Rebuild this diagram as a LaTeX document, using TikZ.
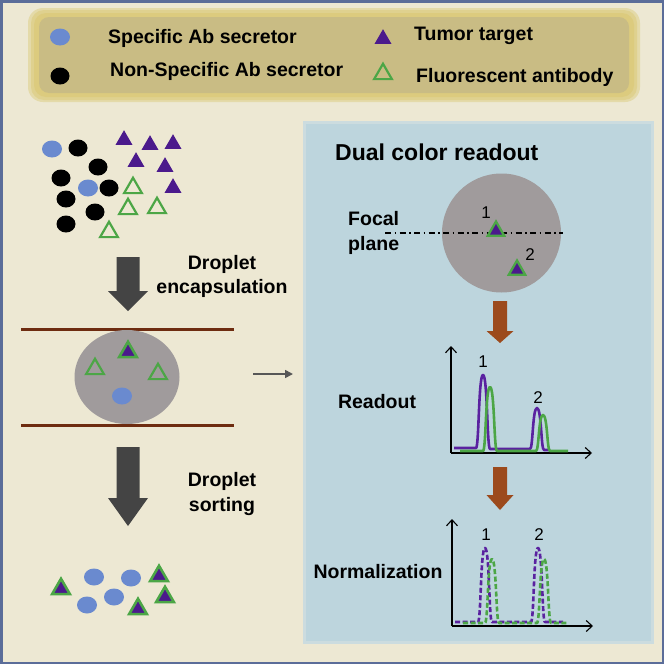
\documentclass[tikz,border=0pt]{standalone}
\usepackage{fontspec}
\setmainfont{Liberation Sans}
\usetikzlibrary{shapes.geometric,arrows.meta}
\definecolor{bg}{HTML}{EDE8D3}
\definecolor{framec}{HTML}{5B6D99}
\definecolor{legfill}{HTML}{C9BC84}
\definecolor{legglow}{HTML}{DCCB7E}
\definecolor{bcol}{HTML}{6A8ACF}
\definecolor{purp}{HTML}{4B1A8C}
\definecolor{purpl}{HTML}{5A22A0}
\definecolor{grn}{HTML}{4CA646}
\definecolor{grayd}{HTML}{A09B9C}
\definecolor{panel}{HTML}{BDD5DD}
\definecolor{panedge}{HTML}{CCDCDF}
\definecolor{darkarr}{HTML}{444444}
\definecolor{brownarr}{HTML}{9C4A1C}
\definecolor{chan}{HTML}{6E2C10}
\tikzset{
  tri/.style={regular polygon, regular polygon sides=3, inner sep=0pt, minimum size=19.6pt, fill=purp, draw=none},
  otri/.style={regular polygon, regular polygon sides=3, inner sep=0pt, minimum size=20.5pt, draw=grn, line width=2.2pt},
  btri/.style={regular polygon, regular polygon sides=3, inner sep=0pt, minimum size=20.5pt, fill=purp, draw=grn, line width=2.6pt},
  bcell/.style={ellipse, fill=bcol, minimum width=20pt, minimum height=17pt, inner sep=0pt},
  kcell/.style={ellipse, fill=black, minimum width=19pt, minimum height=17pt, inner sep=0pt},
  lbl/.style={font=\fontsize{19.5}{24.5}\selectfont\bfseries, inner sep=0pt},
  ttl/.style={font=\fontsize{23}{26}\selectfont\bfseries, inner sep=0pt},
  num/.style={font=\fontsize{17}{20}\selectfont, inner sep=0pt},
  axisline/.style={line width=1.1pt, black},
  axistip/.style={axisline, -{Straight Barb[length=6pt,width=11pt,line width=1.1pt]}},
  pcurve/.style={line width=2.6pt, purpl, line join=round},
  gcurve/.style={line width=2.6pt, grn, line join=round},
  pdash/.style={pcurve, dash pattern=on 5pt off 2.5pt},
  gdash/.style={gcurve, dash pattern=on 5pt off 2.5pt},
}
\begin{document}
\begin{tikzpicture}[x=1pt,y=-1pt]
\useasboundingbox (0,0) rectangle (664,664);
\fill[bg] (0,0) rectangle (664,664);
\draw[framec, line width=2.5pt] (1.25,1.25) rectangle (662.75,662.75);

% legend
\fill[legglow!50!bg, rounded corners=15pt] (28,8) rectangle (640,102);
\fill[legglow!80!bg, rounded corners=13pt] (31,10) rectangle (637,100);
\fill[legglow, rounded corners=12pt] (34,13) rectangle (634,97);
\fill[legfill, rounded corners=10pt] (39,17) rectangle (629,93);
\node[bcell] (lb) at (60,37) {};
\node[kcell] (lk) at (60,76) {};
\node[tri] (lt) at (383,39) {};
\node[otri] (lo) at (383,74) {};
\node[lbl, anchor=west] (tlb) at (108,38) {Specific Ab secretor};
\node[lbl, anchor=west] (tlk) at (110,71) {Non-Specific Ab secretor};
\node[lbl, anchor=west] (tlt) at (414,36) {Tumor target};
\node[lbl, anchor=west] (tlo) at (416,77) {Fluorescent antibody};

% initial cluster
\node[bcell] (b1) at (52,149) {};
\node[bcell] (b2) at (88,188) {};
\node[kcell] (k1) at (78,148) {};
\node[kcell] (k2) at (98,167) {};
\node[kcell] (k3) at (61,178) {};
\node[kcell] (k4) at (109,188) {};
\node[kcell] (k5) at (66,199) {};
\node[kcell] (k6) at (95,212) {};
\node[kcell] (k7) at (66,224) {};
\node[tri] (t1) at (124,140) {};
\node[tri] (t2) at (150,145) {};
\node[tri] (t3) at (173,144) {};
\node[tri] (t4) at (136,162) {};
\node[tri] (t5) at (165,167) {};
\node[tri] (t6) at (173,188) {};
\node[otri] (o1) at (133,188) {};
\node[otri] (o2) at (128,209) {};
\node[otri] (o3) at (157,208) {};
\node[otri] (o4) at (109,232) {};

% dark arrow 1
\fill[darkarr] (116.5,257) -- (139.5,257) -- (139.5,291) -- (148,291) -- (128,311) -- (108,291) -- (116.5,291) -- cycle;
\node[lbl, align=center] (enc) at (222,276.5) {Droplet\\encapsulation};

% channel and droplet
\draw[chan, line width=3pt] (21,329) -- (234,329);
\draw[chan, line width=3pt] (21,425) -- (234,425);
\node[ellipse, fill=grayd, minimum width=105pt, minimum height=94pt, inner sep=0pt] (drop) at (127,377) {};
\node[btri] (dt) at (128,352) {};
\node[otri] (do1) at (95,369) {};
\node[otri] (do2) at (158,374) {};
\node[bcell] (db) at (122,396) {};

% small arrow
\coordinate (sa) at (253,374);
\coordinate (sb) at (293,374);
\draw[darkarr!90, line width=1.6pt, -{Triangle[length=8pt,width=8pt]}] (sa) -- (sb);

% dark arrow 2
\fill[darkarr] (116.5,447) -- (139.5,447) -- (139.5,498) -- (148,498) -- (128,526) -- (108,498) -- (116.5,498) -- cycle;
\node[lbl, align=center] (sort) at (222,494) {Droplet\\sorting};

% final cluster
\node[btri] (f1) at (61,589) {};
\node[btri] (f2) at (159,576) {};
\node[btri] (f3) at (165,597) {};
\node[btri] (f4) at (138,609) {};
\node[bcell] (fb1) at (94,577) {};
\node[bcell] (fb2) at (131,578) {};
\node[bcell] (fb3) at (114,597) {};
\node[bcell] (fb4) at (87,605) {};

% right panel
\fill[panedge] (303,121) rectangle (654,644);
\fill[panel] (306,124) rectangle (651,641);
\node[ttl, anchor=west] (title) at (335,152) {Dual color readout};

\node[circle, fill=grayd, minimum size=119pt, inner sep=0pt] (circ) at (501.5,233) {};
\coordinate (fl) at (385,233);
\coordinate (fr) at (563,233);
\draw[black, line width=1.1pt, dash pattern=on 6pt off 3.5pt on 1.5pt off 3.5pt] (fl) -- (fr);
\node[btri, minimum size=19pt, line width=2.3pt] (c1) at (496,231) {};
\node[btri, minimum size=19pt, line width=2.3pt] (c2) at (517,270) {};
\node[num] (n1) at (486,213) {1};
\node[num] (n2) at (530,255) {2};
\node[lbl, align=left, anchor=west] (focal) at (348,233) {Focal\\plane};

% brown arrows
\fill[brownarr] (493,301) -- (507,301) -- (507,331) -- (513.5,331) -- (500,343) -- (486.5,331) -- (493,331) -- cycle;
\fill[brownarr] (493,467) -- (507,467) -- (507,495) -- (513.5,495) -- (500,510) -- (486.5,495) -- (493,495) -- cycle;

% readout plot
\coordinate (ro) at (451,453);
\coordinate (ry) at (451,346);
\coordinate (rx) at (592,453);
\draw[axistip] (ro) -- (ry);
\draw[axistip] (ro) -- (rx);
\draw[pcurve] (454,448) -- (476,448) .. controls (479,448) and (478.5,375) .. (483,375) .. controls (487.5,375) and (487,448) .. (490,449) -- (530,449) .. controls (533,449) and (532.5,408) .. (537,408) .. controls (541.5,408) and (541,450) .. (544,450) -- (550,450);
\draw[gcurve] (460,451) -- (483,451) .. controls (486,451) and (485.5,387) .. (490,387) .. controls (494.5,387) and (494,451) .. (497,451) -- (536,451) .. controls (539,451) and (538.5,415) .. (543,415) .. controls (547.5,415) and (547,451) .. (550,451) -- (568,451);
\node[num] (r1) at (483,362) {1};
\node[num] (r2) at (538,398) {2};
\node[lbl] (rd) at (377,402) {Readout};

% normalization plot
\coordinate (no) at (452,626);
\coordinate (ny) at (452,519);
\coordinate (nx) at (593,626);
\draw[axistip] (no) -- (ny);
\draw[axistip] (no) -- (nx);
\draw[pdash] (455,622) -- (478,622) .. controls (481,622) and (480.5,548) .. (485,548) .. controls (489.5,548) and (489,622) .. (492,622) -- (531,622) .. controls (534,622) and (533.5,548) .. (538,548) .. controls (542.5,548) and (542,622) .. (545,622) -- (563,622);
\draw[gdash] (463,623) -- (485,623) .. controls (488,623) and (487.5,559) .. (492,559) .. controls (496.5,559) and (496,623) .. (499,623) -- (537,623) .. controls (540,623) and (539.5,559) .. (544,559) .. controls (548.5,559) and (548,623) .. (551,623) -- (568,623);
\node[num] (m1) at (486,535) {1};
\node[num] (m2) at (539,535) {2};
\node[lbl] (nm) at (378,572) {Normalization};
\end{tikzpicture}
\end{document}
